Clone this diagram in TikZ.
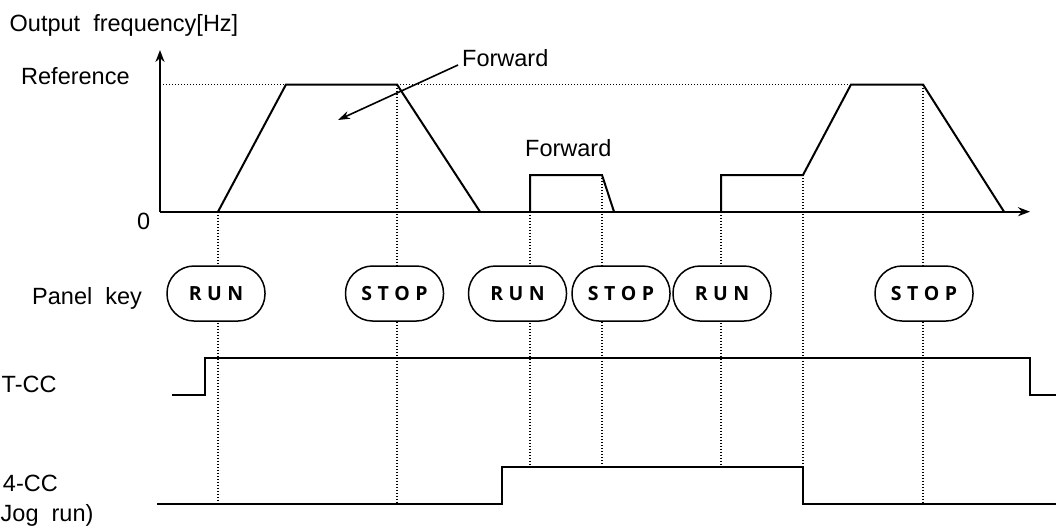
\documentclass[tikz,border=0pt]{standalone}
\usepackage{fontspec}
\setmainfont{Liberation Sans}
\newfontfamily\keyfont{Open Sans}
\usetikzlibrary{arrows.meta}
\begin{document}
\begin{tikzpicture}[x=1pt,y=-1pt,
  sig/.style={line width=2pt, line join=miter},
  guide/.style={line width=1.4pt, dash pattern=on 1.4pt off 1.6pt},
  lbl/.style={font=\fontsize{23.5}{28}\selectfont, inner sep=0pt},
  keybtn/.style={draw, line width=1.5pt, fill=white, rounded corners=27pt,
    minimum width=98pt, minimum height=55pt, inner sep=0pt,
    font=\keyfont\bfseries\fontsize{19.5}{23}\selectfont},
  axisarrow/.style={line width=2pt, -{Stealth[length=12pt,width=9pt]}}]
\useasboundingbox (0,0) rectangle (1056,528);

% guide lines
\draw[guide] (160,84.5) -- (851,84.5);
\draw[guide] (218,211.7) -- (218,504);
\draw[guide] (397,84.5) -- (397,504);
\draw[guide] (530,211.7) -- (530,467);
\draw[guide] (602,175) -- (602,467);
\draw[guide] (721,211.7) -- (721,467);
\draw[guide] (803,175) -- (803,467);
\draw[guide] (923,84.5) -- (923,504);

% axes
\coordinate (org) at (160,211.7);
\coordinate (ytip) at (160,50);
\coordinate (xtip) at (1030,211.7);
\draw[axisarrow] (org) -- (ytip);
\draw[axisarrow] (org) -- (xtip);

% output frequency
\draw[sig] (218,211.7) -- (286,84.5) -- (397,84.5) -- (480,211.7);
\draw[sig] (530,211.7) -- (530,175) -- (602,175) -- (614,211.7);
\draw[sig] (721,211.7) -- (721,175) -- (803,175) -- (851,84.5) -- (923,84.5) -- (1004,211.7);

% ST-CC signal
\draw[sig] (172,394.5) -- (205,394.5) -- (205,358.3) -- (1030,358.3) -- (1030,394.5) -- (1056,394.5);
% jog signal
\draw[sig] (157,504) -- (502,504) -- (502,467) -- (803,467) -- (803,504) -- (1056,504);

% labels
\node[lbl, anchor=base west] (ofq) at (9.5,31.5) {Output\ \ frequency[Hz]};
\node[lbl, anchor=base west] (refl) at (21,84.4) {Reference};
\node[lbl, anchor=base west] (zero) at (137,229.4) {0};
\node[lbl, anchor=base west] (fwd1) at (462,66) {Forward};
\node[lbl, anchor=base west] (fwd2) at (525,156.7) {Forward};
\node[lbl, anchor=base west] (pkey) at (32,304.4) {Panel\ \ key};
\node[lbl, anchor=base west] (stcc) at (1.5,392.7) {T-CC};
\node[lbl, anchor=base east] (jcc) at (58,491.7) {4-CC};
\node[lbl, anchor=base west] (jog) at (0.5,521.7) {Jog\ \ run)};

% forward arrow
\coordinate (fwdtip) at (338,120);
\draw[line width=1.6pt, -{Stealth[length=12pt,width=8pt]}] (fwd1.base west) ++(-4,-1) -- (fwdtip);

% panel keys
\node[keybtn] (run1) at (216,293.5) {R\kern5.5pt U\kern5.5pt N};
\node[keybtn] (stop1) at (394.5,293.5) {S\kern5.5pt T\kern5.5pt O\kern5.5pt P};
\node[keybtn] (run2) at (517.5,293.5) {R\kern5.5pt U\kern5.5pt N};
\node[keybtn] (stop2) at (621,293.5) {S\kern5.5pt T\kern5.5pt O\kern5.5pt P};
\node[keybtn] (run3) at (722,293.5) {R\kern5.5pt U\kern5.5pt N};
\node[keybtn] (stop3) at (924,293.5) {S\kern5.5pt T\kern5.5pt O\kern5.5pt P};
\end{tikzpicture}
\end{document}
